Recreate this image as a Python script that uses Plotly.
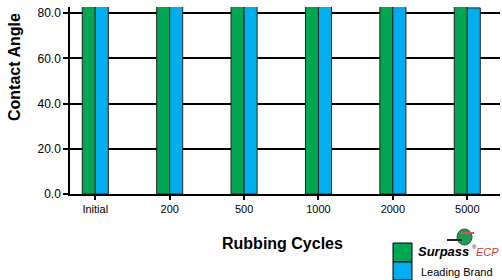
import plotly.graph_objects as go

categories = ["Initial", "200", "500", "1000", "2000", "5000"]
surpass = [95, 95, 95, 95, 95, 95]
leading = [92, 91, 90, 89, 88, 82.3]
y_ticks = [0, 20, 40, 60, 80]
y_tick_labels = ["0.0", "20.0", "40.0", "60.0", "80.0"]

GREEN = "#00A651"
BLUE = "#00AEEF"

fig = go.Figure()
fig.add_trace(go.Bar(x=categories, y=surpass, name="Surpass ECP",
                     marker=dict(color=GREEN, line=dict(color="#222", width=1))))
fig.add_trace(go.Bar(x=categories, y=leading, name="Leading Brand",
                     marker=dict(color=BLUE, line=dict(color="#222", width=1))))

fig.update_layout(
    width=502, height=280,
    margin=dict(l=70, r=2, t=7, b=86),
    paper_bgcolor="white", plot_bgcolor="white",
    barmode="group", bargap=0.65, bargroupgap=0,
    showlegend=False,
    font=dict(family="Liberation Sans, Arial, sans-serif", color="black"),
    xaxis=dict(range=[-0.34, 5.44], showline=True, linecolor="black", linewidth=1.5,
               ticks="outside", ticklen=4, tickwidth=1.5, tickcolor="black",
               tickfont=dict(size=11), showgrid=False, fixedrange=True),
    yaxis=dict(range=[0, 82.7], tickvals=y_ticks, ticktext=y_tick_labels,
               showline=True, linecolor="black", linewidth=1.5,
               ticks="outside", ticklen=5, tickwidth=1.5, tickcolor="black",
               tickfont=dict(size=12), showgrid=True, gridcolor="black", gridwidth=1.5,
               zeroline=False, fixedrange=True),
)

def px(x):
    return (x - 70) / 430

def py(y):
    return (194 - y) / 187

# axis titles
fig.add_annotation(text="<b>Rubbing Cycles</b>", xref="paper", yref="paper",
                   x=px(282), y=py(243), xanchor="center", yanchor="middle", showarrow=False,
                   font=dict(size=16))
fig.add_annotation(text="<b>Contact Angle</b>", xref="paper", yref="paper",
                   x=px(14), y=py(67), textangle=-90, showarrow=False,
                   xanchor="center", yanchor="middle", font=dict(size=16))

# legend
fig.add_shape(type="rect", xref="paper", yref="paper",
              x0=px(393), x1=px(412), y0=py(262), y1=py(243),
              fillcolor=GREEN, line=dict(color="black", width=1))
fig.add_shape(type="rect", xref="paper", yref="paper",
              x0=px(393), x1=px(412), y0=py(280), y1=py(262),
              fillcolor=BLUE, line=dict(color="black", width=1))
# logo
fig.add_shape(type="circle", xref="paper", yref="paper",
              x0=px(457), x1=px(472), y0=py(245), y1=py(229),
              fillcolor="#1f9a5a", line=dict(color="#0d6b3a", width=1))
fig.add_shape(type="line", xref="paper", yref="paper",
              x0=px(461), x1=px(474), y0=py(233), y1=py(233),
              line=dict(color="#e8503a", width=2))
fig.add_shape(type="line", xref="paper", yref="paper",
              x0=px(447), x1=px(462), y0=py(240), y1=py(240),
              line=dict(color="#222", width=2))
fig.add_annotation(text="<b><i>Surpass</i></b>",
                   xref="paper", yref="paper", x=px(416), y=py(252),
                   xanchor="left", yanchor="middle", showarrow=False,
                   font=dict(size=13))
fig.add_annotation(text="®", xref="paper", yref="paper", x=px(470), y=py(247),
                   xanchor="left", yanchor="middle", showarrow=False,
                   font=dict(size=6))
fig.add_annotation(text="<i>ECP</i>", xref="paper", yref="paper", x=px(501), y=py(252),
                   xanchor="right", yanchor="middle", showarrow=False,
                   font=dict(size=11, color="#d9342b"))
fig.add_annotation(text="Leading Brand", xref="paper", yref="paper",
                   x=px(419), y=py(272), xanchor="left", yanchor="middle",
                   showarrow=False, font=dict(size=11))

fig.write_html("out.html", config={"displayModeBar": False},
               post_script="document.body.style.margin='0';document.body.style.overflow='hidden';")
